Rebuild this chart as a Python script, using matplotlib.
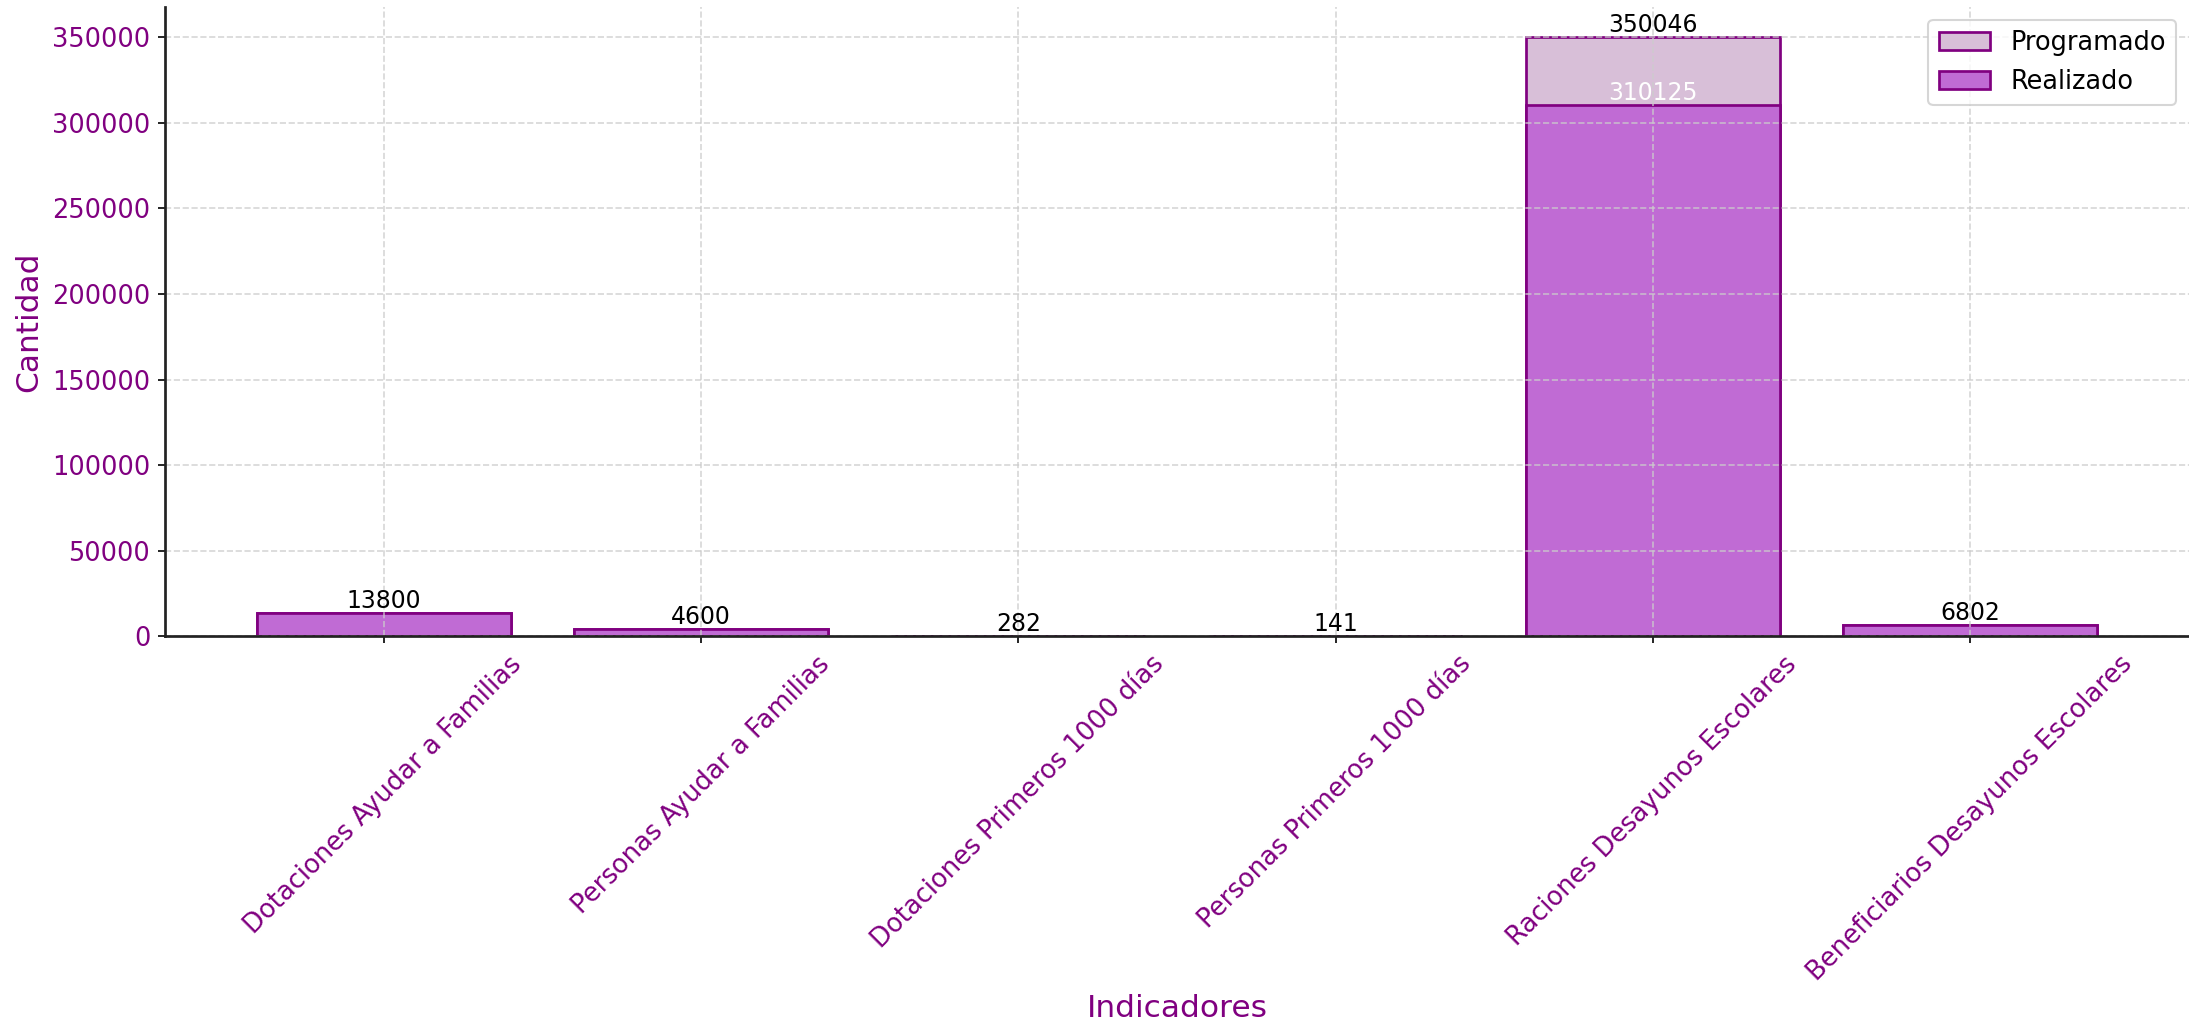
import matplotlib
matplotlib.use("Agg")
import matplotlib.pyplot as plt
import numpy as np

categorias = ["Dotaciones Ayudar a Familias", "Personas Ayudar a Familias",
              "Dotaciones Primeros 1000 días", "Personas Primeros 1000 días",
              "Raciones Desayunos Escolares", "Beneficiarios Desayunos Escolares"]
programado = [13800, 4600, 282, 141, 350046, 6802]
realizado = [13800, 4600, 282, 141, 310125, 6802]

purple = "#800080"
fig = plt.figure(figsize=(2189/150, 1020/150), dpi=150)
ax = fig.add_axes([0.0753, 0.376, 0.9247, 0.617])
x = np.arange(len(categorias))
ax.bar(x, programado, width=0.8, color="#D8BFD8", edgecolor=purple, linewidth=1.3, label="Programado")
ax.bar(x, realizado, width=0.8, color="#C06BD4", edgecolor=purple, linewidth=1.3, label="Realizado")

for xi, v in zip(x, realizado):
    ax.text(xi, v, f"{v}", ha="center", va="bottom", color="white", fontsize=11.3, zorder=5)
for xi, v in zip(x, programado):
    ax.text(xi, v, f"{v}", ha="center", va="bottom", color="black", fontsize=11.3, zorder=6)

ax.set_xticks(x)
ax.set_xticklabels(categorias, rotation=45, ha="center", color=purple, fontsize=12.4)
ax.tick_params(axis="y", colors="black", labelcolor=purple, labelsize=12.3)
ax.tick_params(axis="x", colors="black", labelcolor=purple)
ax.set_xlabel("Indicadores", color=purple, fontsize=15)
ax.set_ylabel("Cantidad", color=purple, fontsize=15)
ax.grid(True, linestyle="--", color="#cccccc", alpha=0.8)
for s in ["top", "right"]:
    ax.spines[s].set_visible(False)
for s in ["left", "bottom"]:
    ax.spines[s].set_linewidth(1.3)
    ax.spines[s].set_color("#222222")
ax.legend(loc="upper right", fontsize=12.3)
fig.savefig("out.png", dpi=150)
